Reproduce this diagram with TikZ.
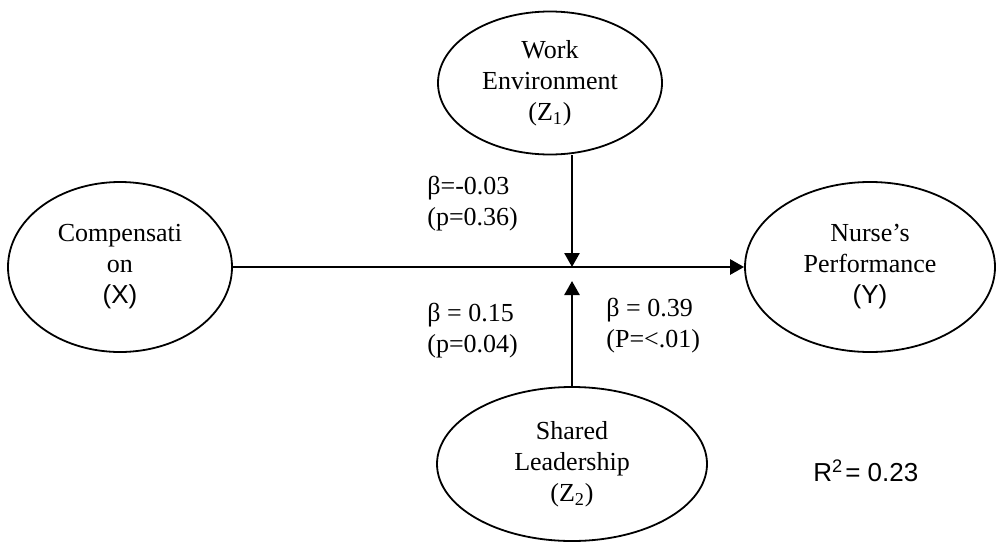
\documentclass[tikz,border=0pt]{standalone}
\usepackage{fontspec}
\setmainfont{Liberation Serif}
\setsansfont{Liberation Sans}
\usetikzlibrary{calc}
\usetikzlibrary{positioning}
\usetikzlibrary{shapes.geometric}
\usetikzlibrary{arrows.meta}
\tikzset{every picture/.style={/utils/exec={\fontsize{13}{15.5}\selectfont}}}
\tikzset{construct/.style={draw, ellipse, line width=0.9pt, align=center, inner sep=0pt}}
\tikzset{link/.style={line width=1.3pt, -{Triangle[length=7pt,width=7.5pt]}}}
\tikzset{coef/.style={anchor=base west, align=left, inner sep=0pt}}

\begin{document}
\begin{tikzpicture}[x=1pt, y=1pt]
  \useasboundingbox (0,0) rectangle (498,271.5);

  % the four constructs
  \node [construct, minimum width=112pt, minimum height=85pt] (comp) at (60,138)
    {Compensati\\on\\\textsf{(X)}};
  \node [construct, minimum width=112pt, minimum height=71.5pt] (work) at (275,230)
    {Work\\Environment\\(Z\textsubscript{1})};
  \node [construct, minimum width=125pt, minimum height=85pt] (nurse) at (435,138)
    {Nurse’s\\Performance\\\textsf{(Y)}};
  \node [construct, minimum width=135pt, minimum height=77pt] (shared) at (286,39.5)
    {Shared\\Leadership\\(Z\textsubscript{2})};

  % where the moderators meet the main path
  \coordinate (join) at (286,138);
  \coordinate (joinlow) at (286,131);

  \draw [link] (comp.east) -- (nurse.west);
  \draw [link] (join |- work.south) -- (join);
  \draw [link] (shared.north) -- (joinlow);

  % coefficients (base = last line)
  \node [coef] (bwork) at (213.5,159) {β=-0.03\\(p=0.36)};
  \node [coef] (bshared) at (213.5,95.5) {β = 0.15\\(p=0.04)};
  \node [coef] (bmain) at (303,98) {β = 0.39\\(P=<.01)};
  \node [coef] (rsq) at (406.5,31) {\textsf{R\textsuperscript{2}\kern1pt= 0.23}};
\end{tikzpicture}
\end{document}
